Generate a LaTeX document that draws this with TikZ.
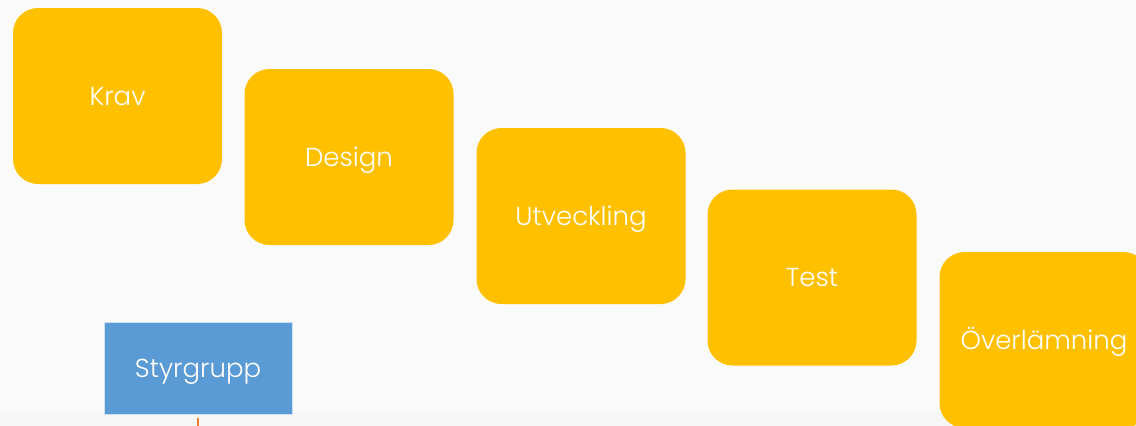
\documentclass[tikz,border=0pt]{standalone}
\usepackage{fontspec}
\setmainfont{Poppins}[UprightFont=* Light]
\usepackage{xcolor}
\usetikzlibrary{positioning}
\definecolor{stegGul}{HTML}{FFC000}
\definecolor{styrBla}{HTML}{5B9BD5}
\definecolor{linjeOrange}{HTML}{ED7D31}
\definecolor{bakgrund}{HTML}{FAFAFA}
\definecolor{bakgrundNere}{HTML}{F6F6F6}

\begin{document}
\begin{tikzpicture}[x=1pt,y=-1pt,
        steg/.style={fill=stegGul, text=white, rounded corners=25pt,
                minimum width=209pt, minimum height=176pt, inner sep=0pt,
                text height=24pt, text depth=6pt},
        styr/.style={fill=styrBla, text=white, draw=white!70!styrBla, line width=0.6pt,
                minimum width=188pt, minimum height=92pt, inner sep=0pt,
                text height=25pt, text depth=6pt},
        font=\fontsize{26}{30}\selectfont]
            \useasboundingbox (0,0) rectangle (1136,426);
            \clip (0,0) rectangle (1136,426);
            \fill[bakgrund] (0,0) rectangle (1136,426);
            \fill[bakgrundNere] (0,413) rectangle (1136,426);
            % faserna
            \node[steg] (krav) at (117.5,96) {Krav};
            \node[steg] (design) at (349,157) {Design};
            \node[steg] (utveckling) at (581,216) {Utveckling};
            \node[steg] (test) at (812,277.5) {Test};
            \node[steg] (overlamning) at (1044,340) {Överlämning};
            % styrgrupp
            \node[styr] (styrgrupp) at (198,368) {Styrgrupp};
            \coordinate (nere) at (198,430);
            \draw[linjeOrange, line width=2pt] ([yshift=-4pt]styrgrupp.south) -- (nere);
        \end{tikzpicture}
\end{document}
